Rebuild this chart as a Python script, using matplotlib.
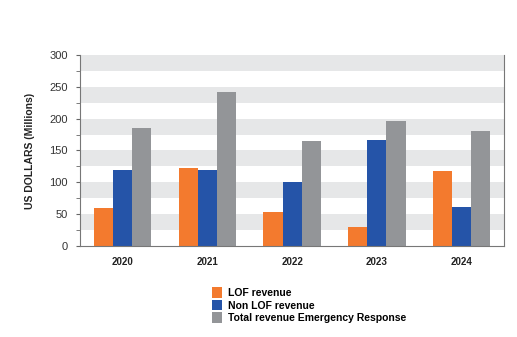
import matplotlib.pyplot as plt
import numpy as np

plt.rcParams['font.family'] = ['Liberation Sans', 'DejaVu Sans']

years = ['2020', '2021', '2022', '2023', '2024']
lof_revenue = [60, 123, 54, 30, 117]
non_lof_revenue = [119, 120, 101, 167, 62]
total_revenue = [185, 242, 165, 196, 181]
series_names = ['LOF revenue', 'Non LOF revenue', 'Total revenue Emergency Response']
colors = ['#F37A2E', '#2554A8', '#939598']

fig = plt.figure(figsize=(5.17, 3.37), dpi=100)
ax = fig.add_axes([0.155, 0.27, 0.82, 0.567])

# alternating background bands
for lo in range(25, 300, 50):
    ax.axhspan(lo, lo + 25, color='#E6E7E8', lw=0, zorder=0)

x = np.arange(len(years))
w = 0.225
for i, (vals, name, c) in enumerate(zip([lof_revenue, non_lof_revenue, total_revenue], series_names, colors)):
    ax.bar(x + (i - 1) * w, vals, w, color=c, label=name, zorder=2)

ax.set_xlim(-0.5, len(years) - 0.5)
ax.set_ylim(0, 300)
ax.set_yticks(range(0, 301, 50))
ax.set_yticks(range(0, 301, 25), minor=True)
ax.set_xticks(x)
ax.set_xticklabels(years, fontsize=7, fontweight='bold', color='#222222')
ax.tick_params(axis='x', length=0, pad=8)
ax.tick_params(axis='y', which='both', length=3, color='#666666', labelsize=8, labelcolor='#333333', pad=6)

for s in ['left', 'bottom', 'right']:
    ax.spines[s].set_color('#777777')
    ax.spines[s].set_linewidth(0.8)
ax.spines['top'].set_visible(False)

ax.set_ylabel('US DOLLARS (Millions)', fontsize=7.5, fontweight='bold', color='#222222', labelpad=10)

fig.legend(loc='upper left', bbox_to_anchor=(0.392, 0.175), frameon=False,
           handlelength=1.0, handleheight=1.2, handletextpad=0.5,
           labelspacing=0.15, prop={'weight': 'bold', 'size': 7.5})

fig.savefig('out.png', dpi=100)
